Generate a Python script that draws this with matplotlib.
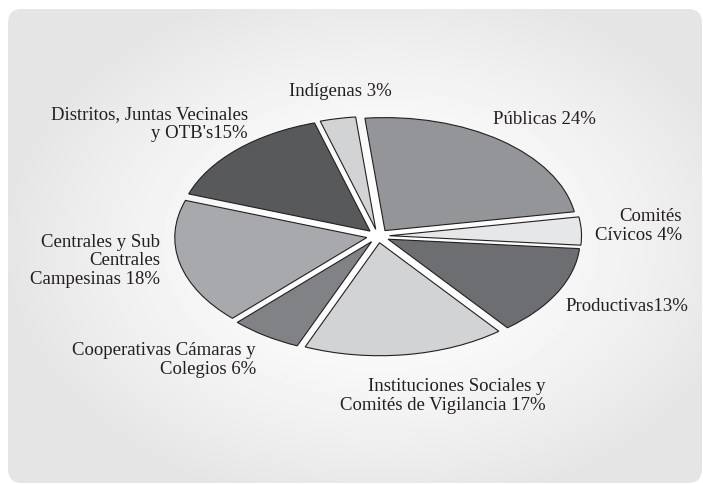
import numpy as np
import matplotlib.pyplot as plt
from matplotlib.patches import FancyBboxPatch

# datos (porcentajes tal como aparecen en las etiquetas)
categorias = ["Públicas", "Comités Cívicos", "Productivas",
              "Instituciones Sociales y Comités de Vigilancia",
              "Cooperativas Cámaras y Colegios",
              "Centrales y Sub Centrales Campesinas",
              "Distritos, Juntas Vecinales y OTB's", "Indígenas"]
porcentajes = [24, 4, 13, 17, 6, 18, 15, 3]
etiquetas = ["Públicas 24%", "Comités\nCívicos 4%", "Productivas13%",
             "Instituciones Sociales y\nComités de Vigilancia 17%",
             "Cooperativas Cámaras y\nColegios 6%",
             "Centrales y Sub\nCentrales\nCampesinas 18%",
             "Distritos, Juntas Vecinales\ny OTB's15%", "Indígenas 3%"]

colores = ["#939598", "#e6e7e8", "#6d6e71", "#d1d3d4",
           "#808285", "#a7a9ac", "#58595b", "#d1d3d4"]
# posicion de cada etiqueta en pixeles (x, y desde arriba, alineacion)
pos_etiquetas = [(493, 119, "left"), (682, 226, "right"), (565, 307, "left"),
                 (546, 396, "right"), (256, 360, "right"), (160, 261, "right"),
                 (248, 124, "right"), (289, 92, "left")]

W, H = 703, 485
fig = plt.figure(figsize=(W / 100, H / 100), dpi=100)

# fondo con panel redondeado y degradado radial
ax_bg = fig.add_axes([0, 0, 1, 1])
ax_bg.set_xlim(0, W)
ax_bg.set_ylim(H, 0)
ax_bg.axis("off")
yy, xx = np.mgrid[0:H, 0:W]
d = np.sqrt(((xx - 380) / 380.0) ** 2 + ((yy - 245) / 270.0) ** 2)
v = np.clip(d, 0, 1) ** 1.6
grad = 1.0 - v * 0.105
img = ax_bg.imshow(grad, cmap="gray", vmin=0, vmax=1, extent=(0, W, H, 0),
                   interpolation="bilinear", zorder=0)
panel = FancyBboxPatch((8, 10), 694, 474,
                       boxstyle="round,pad=0,rounding_size=14",
                       facecolor="none", edgecolor="none")
ax_bg.add_patch(panel)
img.set_clip_path(panel)

# pastel eliptico
cx, cy = 378, 237
a, b = 192, 113
ax = fig.add_axes([0, 0, 1, 1])
ax.patch.set_alpha(0)
ax.pie(porcentajes, colors=colores, startangle=96, counterclock=False,
       explode=[0.06] * len(porcentajes),
       wedgeprops=dict(edgecolor="#231f20", linewidth=0.8))
ax.set_aspect("auto")
ax.set_xlim(-cx / a, (W - cx) / a)
ax.set_ylim(-(H - cy) / b, cy / b)
ax.axis("off")

# etiquetas encima del pastel
ax_txt = fig.add_axes([0, 0, 1, 1])
ax_txt.patch.set_alpha(0)
ax_txt.set_xlim(0, W)
ax_txt.set_ylim(H, 0)
ax_txt.axis("off")
tfont = dict(family=["Liberation Serif", "DejaVu Serif"], size=13.5,
             color="#231f20", linespacing=1.15)
for txt, (x, y, ha) in zip(etiquetas, pos_etiquetas):
    ax_txt.text(x, y, txt, ha=ha, va="center", multialignment=ha, **tfont)

fig.savefig("out.png", dpi=100)
